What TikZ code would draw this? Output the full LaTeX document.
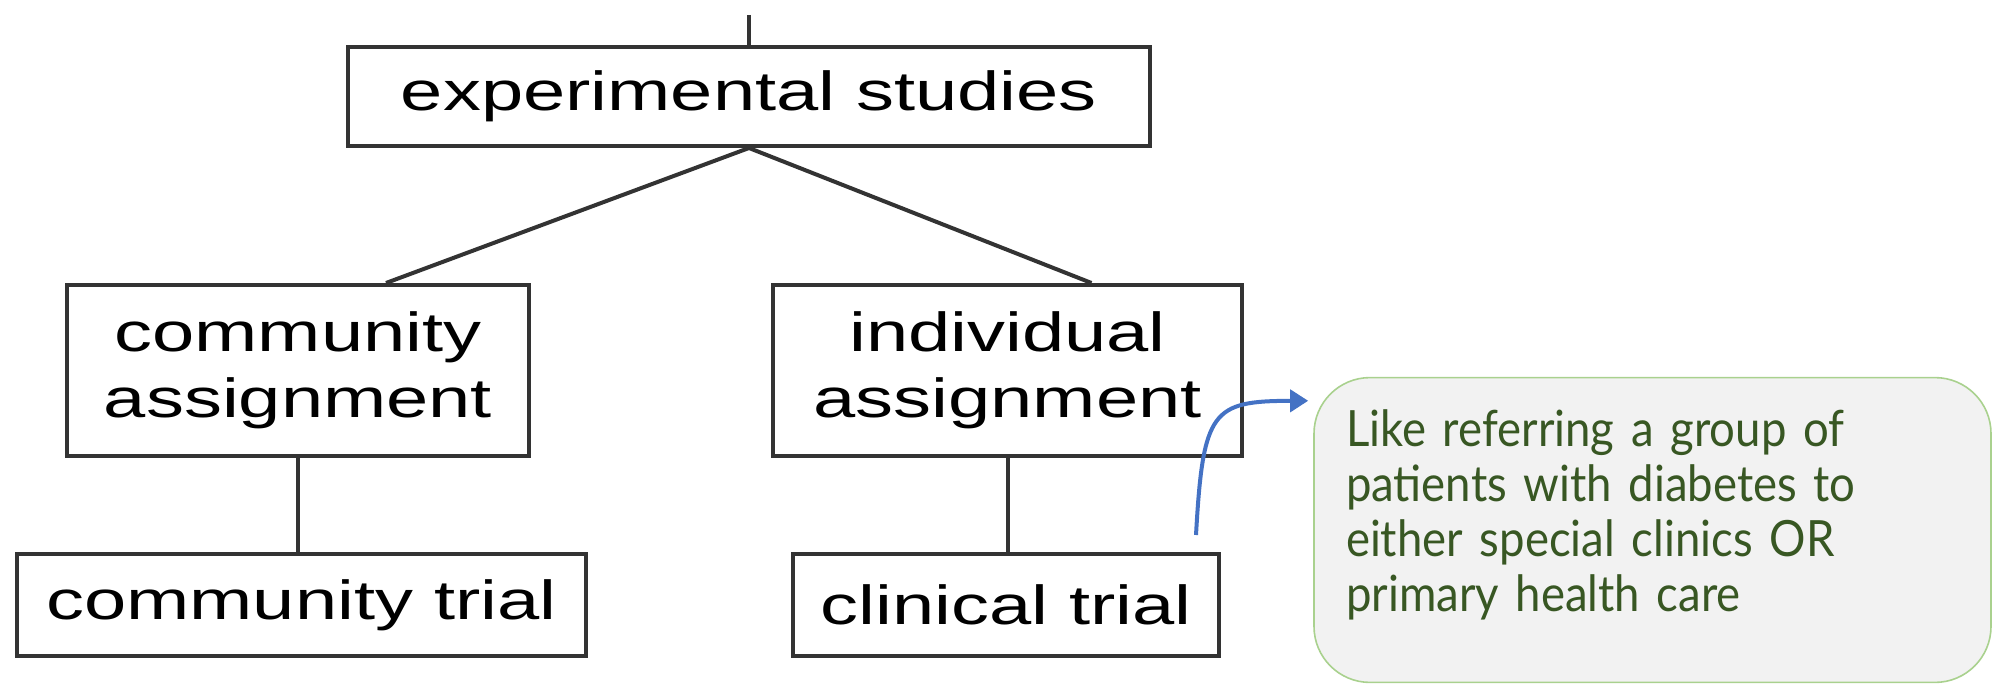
\documentclass[tikz,border=0pt]{standalone}
\usepackage{fontspec}
\newfontfamily\treefont[FakeStretch=1.38]{Liberation Sans}
\newfontfamily\notefont[FakeStretch=0.91]{Lato}
\usetikzlibrary{arrows.meta}
\definecolor{linegray}{HTML}{333333}
\definecolor{notegreen}{HTML}{385723}
\definecolor{noteedge}{HTML}{A9D18E}
\definecolor{notefill}{HTML}{F2F2F2}
\definecolor{arrowblue}{HTML}{4472C4}

\begin{document}
\begin{tikzpicture}[x=0.5pt,y=-0.5pt,
	treebox/.style={draw=linegray, line width=2pt, inner sep=0pt, align=center,
		font=\treefont\fontsize{27.5}{33}\selectfont},
	link/.style={draw=linegray, line width=2pt}]
	\useasboundingbox (0,0) rectangle (1997,684);
	\node[treebox, minimum width=401pt, minimum height=49.5pt] (expt) at (749,96.5) {experimental studies};
	\node[treebox, minimum width=231pt, minimum height=85.5pt] (comass) at (298,370.5) {community\\assignment};
	\node[treebox, minimum width=234.5pt, minimum height=85.5pt] (indass) at (1007.5,370.5) {individual\\assignment};
	\node[treebox, minimum width=284.5pt, minimum height=51pt] (comtrial) at (301.5,605) {community trial};
	\node[treebox, minimum width=213pt, minimum height=51pt] (clintrial) at (1006,605) {clinical trial};
	\node[draw=noteedge, fill=notefill, line width=0.8pt, rounded corners=28pt, inner sep=16pt,
		text width=306.5pt, minimum height=152pt, text depth=102pt, align=left, text=notegreen,
		font=\notefont\fontsize{25}{27.5}\selectfont] (note) at (1652.5,530)
		{Like referring a group of\\patients with diabetes to\\either special clinics OR\\primary health care};
	\coordinate (top) at (749,15);
	\coordinate (start) at (1196,535);
	\coordinate (tip) at ([xshift=-2.5pt,yshift=-12pt]note.north west);
	\draw[link] (top) -- (expt.north);
	\draw[link] (expt.south) -- ([xshift=44pt]comass.north);
	\draw[link] (expt.south) -- ([xshift=42pt]indass.north);
	\draw[link] (comass.south) -- (comass.south |- comtrial.north);
	\draw[link] (indass.south) -- (indass.south |- clintrial.north);
	\draw[arrowblue, line width=2pt, -{Triangle[length=9pt,width=11pt]}] (start) .. controls (1203,410) and (1212,401) .. (tip);
\end{tikzpicture}
\end{document}
